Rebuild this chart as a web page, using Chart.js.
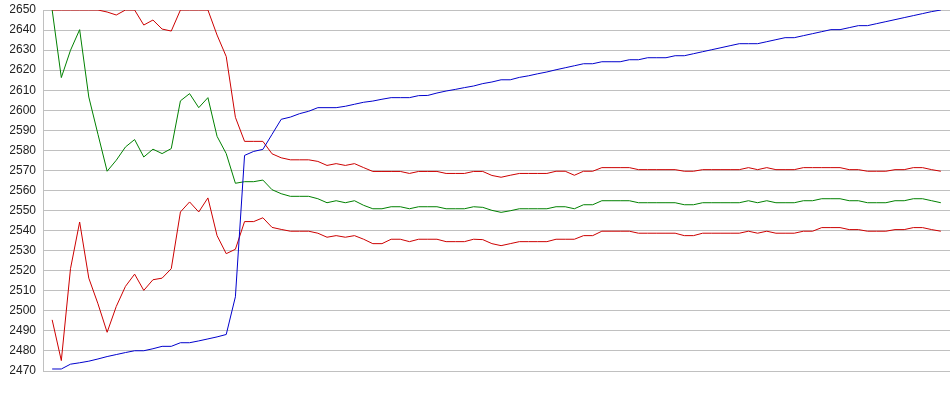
<!DOCTYPE html>
<html>
<head>
<meta charset="utf-8">
<script src="https://cdn.jsdelivr.net/npm/chart.js@4.4.1/dist/chart.umd.min.js"></script>
<style>
  html, body { margin: 0; padding: 0; background: #fff; }
  #chart { display: block; }
</style>
</head>
<body>
<canvas id="chart" width="950" height="395"></canvas>
<script>
// y axis range
const yMin = 2470;
const yMax = 2650;
const yStep = 10;

// price (blue)
const price = [
    2471, 2471, 2473.4, 2474.1, 2474.9, 2476, 2477.2, 2478.2, 2479.2, 2480.1,
    2480.1, 2481.1, 2482.3, 2482.3, 2484.1, 2484.1, 2485, 2486, 2487, 2488.2,
    2507, 2577.5, 2579.5, 2580.5, 2588, 2595.5, 2596.6, 2598.3, 2599.5, 2601.3,
    2601.3, 2601.3, 2602, 2603, 2604, 2604.6, 2605.5, 2606.3, 2606.3, 2606.3,
    2607.3, 2607.4, 2608.6, 2609.6, 2610.4, 2611.3, 2612.1, 2613.3, 2614.1, 2615.2,
    2615.2, 2616.4, 2617.2, 2618.2, 2619.1, 2620.2, 2621.2, 2622.2, 2623.2, 2623.2,
    2624.2, 2624.2, 2624.2, 2625.2, 2625.2, 2626.2, 2626.2, 2626.2, 2627.2, 2627.2,
    2628.2, 2629.2, 2630.2, 2631.2, 2632.2, 2633.2, 2633.2, 2633.2, 2634.2, 2635.2,
    2636.2, 2636.2, 2637.2, 2638.2, 2639.2, 2640.2, 2640.2, 2641.2, 2642.2, 2642.2,
    2643.2, 2644.2, 2645.2, 2646.2, 2647.2, 2648.2, 2649.2, 2650
];

// upper band (red)
const upperBand = [
    2650, 2650, 2650, 2650, 2650, 2650, 2649, 2647.5, 2650, 2650,
    2642.5, 2645, 2640.5, 2639.5, 2650, 2650, 2650, 2650, 2637.5, 2626.8,
    2596.5, 2584.5, 2584.5, 2584.5, 2578.3, 2576.3, 2575.3, 2575.3, 2575.3, 2574.5,
    2572.5, 2573.4, 2572.5, 2573.4, 2571.4, 2569.5, 2569.5, 2569.5, 2569.5, 2568.5,
    2569.5, 2569.5, 2569.5, 2568.5, 2568.5, 2568.5, 2569.5, 2569.5, 2567.5, 2566.6,
    2567.6, 2568.5, 2568.5, 2568.5, 2568.5, 2569.6, 2569.6, 2567.6, 2569.6, 2569.6,
    2571.4, 2571.4, 2571.4, 2571.4, 2570.4, 2570.4, 2570.4, 2570.4, 2570.4, 2569.6,
    2569.6, 2570.4, 2570.4, 2570.4, 2570.4, 2570.4, 2571.4, 2570.4, 2571.4, 2570.4,
    2570.4, 2570.4, 2571.4, 2571.4, 2571.4, 2571.4, 2571.4, 2570.4, 2570.4, 2569.6,
    2569.6, 2569.6, 2570.4, 2570.4, 2571.4, 2571.4, 2570.4, 2569.6
];

// middle band (green)
const middleBand = [
    2650, 2616.3, 2629.9, 2640.2, 2606.6, 2588, 2569.6, 2575.1, 2581.7, 2585.4,
    2576.7, 2580.6, 2578.4, 2580.9, 2604.7, 2608.3, 2601.3, 2606.3, 2587, 2578.4,
    2563.6, 2564.4, 2564.4, 2565.2, 2560.4, 2558.4, 2557.1, 2557.1, 2557.1, 2555.9,
    2553.9, 2554.9, 2553.9, 2554.9, 2552.6, 2550.9, 2550.9, 2551.9, 2551.9, 2550.9,
    2551.9, 2551.9, 2551.9, 2550.9, 2550.9, 2550.9, 2551.9, 2551.6, 2550.1, 2549.1,
    2549.9, 2550.9, 2550.9, 2550.9, 2550.9, 2551.9, 2551.9, 2550.9, 2552.9, 2552.9,
    2554.9, 2554.9, 2554.9, 2554.9, 2553.9, 2553.9, 2553.9, 2553.9, 2553.9, 2552.9,
    2552.9, 2553.9, 2553.9, 2553.9, 2553.9, 2553.9, 2554.9, 2553.9, 2554.9, 2553.9,
    2553.9, 2553.9, 2554.9, 2554.9, 2555.9, 2555.9, 2555.9, 2554.9, 2554.9, 2553.9,
    2553.9, 2553.9, 2554.9, 2554.9, 2555.9, 2555.9, 2554.9, 2553.9
];

// lower band (red)
const lowerBand = [
    2495.5, 2475.2, 2521, 2544.3, 2516.3, 2503.5, 2489.3, 2502.2, 2512.2, 2518.3,
    2510.2, 2515.5, 2516.3, 2521, 2549.3, 2554.3, 2549.3, 2556.3, 2537.5, 2528.5,
    2530.7, 2544.5, 2544.5, 2546.4, 2541.6, 2540.6, 2539.7, 2539.7, 2539.7, 2538.7,
    2536.7, 2537.5, 2536.7, 2537.5, 2535.7, 2533.5, 2533.5, 2535.7, 2535.7, 2534.5,
    2535.7, 2535.7, 2535.7, 2534.5, 2534.5, 2534.5, 2535.7, 2535.5, 2533.5, 2532.5,
    2533.5, 2534.5, 2534.5, 2534.5, 2534.5, 2535.7, 2535.7, 2535.7, 2537.5, 2537.5,
    2539.7, 2539.7, 2539.7, 2539.7, 2538.7, 2538.7, 2538.7, 2538.7, 2538.7, 2537.5,
    2537.5, 2538.7, 2538.7, 2538.7, 2538.7, 2538.7, 2539.7, 2538.7, 2539.7, 2538.7,
    2538.7, 2538.7, 2539.7, 2539.7, 2541.5, 2541.5, 2541.5, 2540.5, 2540.5, 2539.7,
    2539.7, 2539.7, 2540.5, 2540.5, 2541.5, 2541.5, 2540.5, 2539.7
];

// x positions are just the sample index
const labels = price.map((_, i) => i);

const lineStyle = (color) => ({
    borderColor: color,
    borderWidth: 1,
    pointRadius: 0,
    tension: 0,
    fill: false
});

new Chart(document.getElementById("chart"), {
    type: "line",
    data: {
        labels: labels,
        datasets: [
            { label: "Price", data: price, ...lineStyle("#0000cc") },
            { label: "Upper", data: upperBand, ...lineStyle("#cc0000") },
            { label: "Middle", data: middleBand, ...lineStyle("#008000") },
            { label: "Lower", data: lowerBand, ...lineStyle("#cc0000") }
        ]
    },
    options: {
        responsive: false,
        animation: false,
        devicePixelRatio: 1,
        layout: { padding: { top: 10, right: 0, bottom: 24, left: 10 } },
        plugins: {
            legend: { display: false },
            tooltip: { enabled: false }
        },
        scales: {
            x: {
                type: "linear",
                display: false,
                min: -1,
                max: labels.length
            },
            y: {
                min: yMin,
                max: yMax,
                afterFit: (scale) => {
                    scale.width = 33;
                    // let the layout padding alone decide where the plot starts
                    scale.paddingTop = 0;
                    scale.paddingBottom = 0;
                },
                border: { color: "#c0c0c0" },
                grid: { color: "#c0c0c0", drawTicks: false },
                ticks: {
                    stepSize: yStep,
                    padding: 7,
                    color: "#222",
                    font: { family: "Arial, 'Liberation Sans'", size: 12 },
                    callback: (value) => String(value)
                }
            }
        }
    }
});
</script>
</body>
</html>
